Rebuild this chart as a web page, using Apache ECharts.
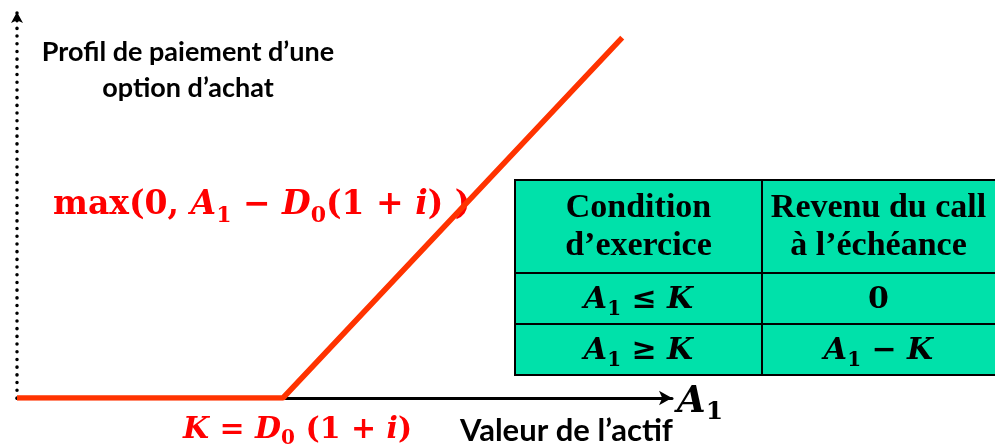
<!DOCTYPE html>
<html>
<head>
<meta charset="utf-8">
<script src="https://cdn.jsdelivr.net/npm/echarts@6/dist/echarts.min.js"></script>
<style>
  html, body { margin: 0; padding: 0; background: #fff; }
  #chart { width: 995px; height: 446px; }
</style>
</head>
<body>
<div id="chart"></div>
<script>
// payoff of a call: flat at 0 until K, then A1 - K
const assetValue = [0, 40.6, 92.4];
const callPayoff = [0, 0, 51.8];

// table text
const tableHeader = [['Condition', 'd’exercice'], ['Revenu du call', 'à l’échéance']];
const tableRows = [
    ['{it|A}{sub|1}{r| ≤ }{it|K}', '{r|0}'],
    ['{it|A}{sub|1}{r| ≥ }{it|K}', '{it|A}{sub|1}{r| − }{it|K}']
];

const chart = echarts.init(document.getElementById('chart'));

const serif = '"Liberation Serif", serif';
const mathFont = '"DejaVu Serif", serif';
const sans = 'Lato, "Open Sans", sans-serif';

function mathRich(size, color, lh){
    const subSize = Math.round(size * 0.68);
    return {
        r:   { fontFamily: mathFont, fontWeight: 'bold', fontSize: size, fill: color, color: color, lineHeight: lh, verticalAlign: 'middle' },
        it:  { fontFamily: mathFont, fontWeight: 'bold', fontStyle: 'italic', fontSize: size, fill: color, color: color, lineHeight: lh, verticalAlign: 'middle' },
        sub: { fontFamily: mathFont, fontWeight: 'bold', fontSize: subSize, fill: color, color: color, lineHeight: subSize, verticalAlign: 'bottom' }
    };
}

// table cells
const colX = [515, 762, 1000];
const rowY = [180, 273, 324, 375];
const tableColor = '#00e1aa';
let tableGraphics = [];
for (let r = 0; r < 3; r++){
    for (let c = 0; c < 2; c++){
        tableGraphics.push({
            type: 'rect',
            shape: { x: colX[c], y: rowY[r], width: colX[c+1] - colX[c], height: rowY[r+1] - rowY[r] },
            style: { fill: tableColor, stroke: '#000', lineWidth: 2 },
            z: 10
        });
    }
}
tableHeader.forEach((lines, c) => {
    tableGraphics.push({
        type: 'text',
        x: (colX[c] + Math.min(colX[c+1], 995)) / 2,
        y: (rowY[0] + rowY[1]) / 2 + 1,
        style: {
            text: lines.join('\n'),
            font: 'bold 34px ' + serif,
            lineHeight: 38,
            fill: '#000',
            align: 'center',
            verticalAlign: 'middle'
        },
        z: 11
    });
});
tableRows.forEach((cells, r) => {
    cells.forEach((txt, c) => {
        tableGraphics.push({
            type: 'text',
            x: (colX[c] + Math.min(colX[c+1], 995)) / 2,
            y: (rowY[r+1] + rowY[r+2]) / 2 + 2,
            style: {
                text: txt,
                rich: mathRich(30, '#000', 38),
                align: 'center',
                verticalAlign: 'middle'
            },
            z: 11
        });
    });
});

const option = {
    animation: false,
    backgroundColor: '#fff',
    grid: { left: 17, right: 323, top: 12, bottom: 48 },
    xAxis: {
        type: 'value',
        min: 0,
        max: 100,
        axisLine: {
            show: true,
            symbol: ['none', 'arrow'],
            symbolSize: [11, 13],
            lineStyle: { color: '#000', width: 3 }
        },
        axisTick: { show: false },
        axisLabel: { show: false },
        splitLine: { show: false }
    },
    yAxis: {
        type: 'value',
        min: 0,
        max: 55.5,
        axisLine: {
            show: true,
            symbol: ['none', 'arrow'],
            symbolSize: [9, 11],
            lineStyle: { color: '#000', width: 3.5, type: [0.1, 7.6], cap: 'round' }
        },
        axisTick: { show: false },
        axisLabel: { show: false },
        splitLine: { show: false }
    },
    series: [{
        type: 'line',
        data: assetValue.map((a, i) => [a, callPayoff[i]]),
        symbol: 'none',
        lineStyle: { color: '#ff3300', width: 5.5 },
        z: 5
    }],
    graphic: [
        {
            type: 'text',
            x: 188, y: 70,
            style: {
                text: 'Profil de paiement d’une\noption d’achat',
                font: 'bold 27px ' + sans,
                lineHeight: 36,
                fill: '#000',
                align: 'center',
                verticalAlign: 'middle'
            }
        },
        {
            type: 'text',
            x: 53, y: 205,
            style: {
                text: '{r|max(0, }{it|A}{sub|1}{r| − }{it|D}{sub|0}{r|(1 + }{it|i}{r|) )}',
                rich: mathRich(33, '#ff0000', 44),
                align: 'left',
                verticalAlign: 'middle'
            }
        },
        {
            type: 'text',
            x: 183, y: 430,
            style: {
                text: '{it|K}{r| = }{it|D}{sub|0}{r| (1 + }{it|i}{r|)}',
                rich: mathRich(30, '#ff0000', 38),
                align: 'left',
                verticalAlign: 'middle'
            }
        },
        {
            type: 'text',
            x: 460, y: 431,
            style: {
                text: 'Valeur de l’actif',
                font: 'bold 31px ' + sans,
                fill: '#000',
                align: 'left',
                verticalAlign: 'middle'
            }
        },
        {
            type: 'text',
            x: 677, y: 402,
            style: {
                text: '{it|A}{sub|1}',
                rich: mathRich(37, '#000', 46),
                align: 'left',
                verticalAlign: 'middle'
            }
        }
    ].concat(tableGraphics)
};

chart.setOption(option);
</script>
</body>
</html>
